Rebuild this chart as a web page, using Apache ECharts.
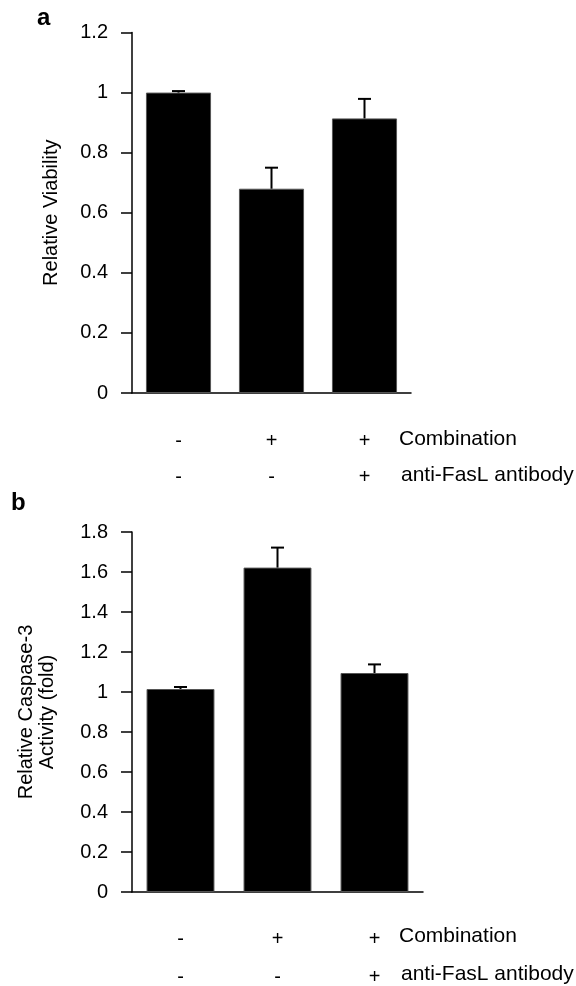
<!DOCTYPE html>
<html>

<head>
    <meta charset="utf-8">
    <title>Viability / Caspase-3</title>
    <script type="text/javascript" src="https://cdn.jsdelivr.net/npm/echarts@6/dist/echarts.min.js"></script>
</head>

<body style="margin: 0; padding: 0; background: #fff;">
    <div id="main" style="width: 576px; height: 986px;"></div>
    <script type="text/javascript">
    // data
    var combRow = ['-', '+', '+'];
    var fasRow = ['-', '-', '+'];
    var rowNames = ['Combination', 'anti-FasL antibody'];
    var viability = [1.0, 0.68, 0.914];
    var viabilityErr = [0.005, 0.07, 0.065];
    var caspase = [1.015, 1.622, 1.095];
    var caspaseErr = [0.01, 0.10, 0.043];

    var FONT = 'Liberation Sans, Arial, Helvetica, sans-serif';
    var myChart = echarts.init(document.getElementById('main'));

    var cats = combRow.map(function (c, i) { return c + '\n' + fasRow[i]; });

    function errData(vals, errs) {
        return vals.map(function (v, i) { return [i, v, v + errs[i]]; });
    }

    function renderErr(params, api) {
        var lo = api.coord([api.value(0), api.value(1)]);
        var hi = api.coord([api.value(0), api.value(2)]);
        var st = { stroke: '#000', lineWidth: 2 };
        return {
            type: 'group',
            children: [
                { type: 'line', shape: { x1: lo[0], y1: lo[1], x2: hi[0], y2: hi[1] }, style: st },
                { type: 'line', shape: { x1: hi[0] - 6.5, y1: hi[1], x2: hi[0] + 6.5, y2: hi[1] }, style: st }
            ]
        };
    }

    function xAx(idx, margin, lh) {
        return {
            type: 'category',
            gridIndex: idx,
            data: cats,
            axisLine: { lineStyle: { color: '#000', width: 1.5 } },
            axisTick: { length: 10, lineStyle: { color: '#000', width: 1.5 } },
            axisLabel: { color: '#000', fontSize: 20, fontFamily: FONT, lineHeight: lh, margin: margin }
        };
    }

    function yAx(idx, max, name, gap) {
        return {
            type: 'value',
            gridIndex: idx,
            min: 0,
            max: max,
            interval: 0.2,
            name: name,
            nameLocation: 'middle',
            nameGap: gap,
            nameTextStyle: { color: '#000', fontSize: 20, fontFamily: FONT, lineHeight: 21 },
            splitLine: { show: false },
            axisLine: { show: true, lineStyle: { color: '#000', width: 1.5 } },
            axisTick: { show: true, length: 11, lineStyle: { color: '#000', width: 1.5 } },
            axisLabel: { color: '#000', fontSize: 20, fontFamily: FONT, margin: 24 }
        };
    }

    var barStyle = { color: '#000', borderColor: '#555', borderWidth: 1 };

    var texts = [
        { type: 'text', left: 37, top: 6, style: { text: 'a', font: 'bold 24px ' + FONT, fill: '#000' } },
        { type: 'text', left: 11, top: 491, style: { text: 'b', font: 'bold 24px ' + FONT, fill: '#000' } }
    ];
    [[440, 476], [937, 975]].forEach(function (ys) {
        rowNames.forEach(function (t, k) {
            texts.push({
                type: 'text', left: 399 + k * 2, top: ys[k] - 11,
                style: { text: t, font: '21px ' + FONT, fill: '#000' }
            });
        });
    });

    var option = {
        animation: false,
        backgroundColor: '#fff',
        grid: [
            { left: 132, right: 165, top: 32.5, height: 360.5, outerBoundsMode: 'none' },
            { left: 132, right: 153, top: 532, height: 360, outerBoundsMode: 'none' }
        ],
        xAxis: [xAx(0, 30, 36), xAx(1, 28, 38)],
        yAxis: [
            yAx(0, 1.2, 'Relative Viability', 70),
            yAx(1, 1.8, 'Relative Caspase-3\nActivity (fold)', 74)
        ],
        graphic: texts,
        series: [
            { type: 'bar', xAxisIndex: 0, yAxisIndex: 0, data: viability, barWidth: '70%', itemStyle: barStyle },
            { type: 'custom', xAxisIndex: 0, yAxisIndex: 0, data: errData(viability, viabilityErr), renderItem: renderErr, z: 5 },
            { type: 'bar', xAxisIndex: 1, yAxisIndex: 1, data: caspase, barWidth: '70%', itemStyle: barStyle },
            { type: 'custom', xAxisIndex: 1, yAxisIndex: 1, data: errData(caspase, caspaseErr), renderItem: renderErr, z: 5 }
        ]
    };

    myChart.setOption(option);
    </script>
</body>

</html>
